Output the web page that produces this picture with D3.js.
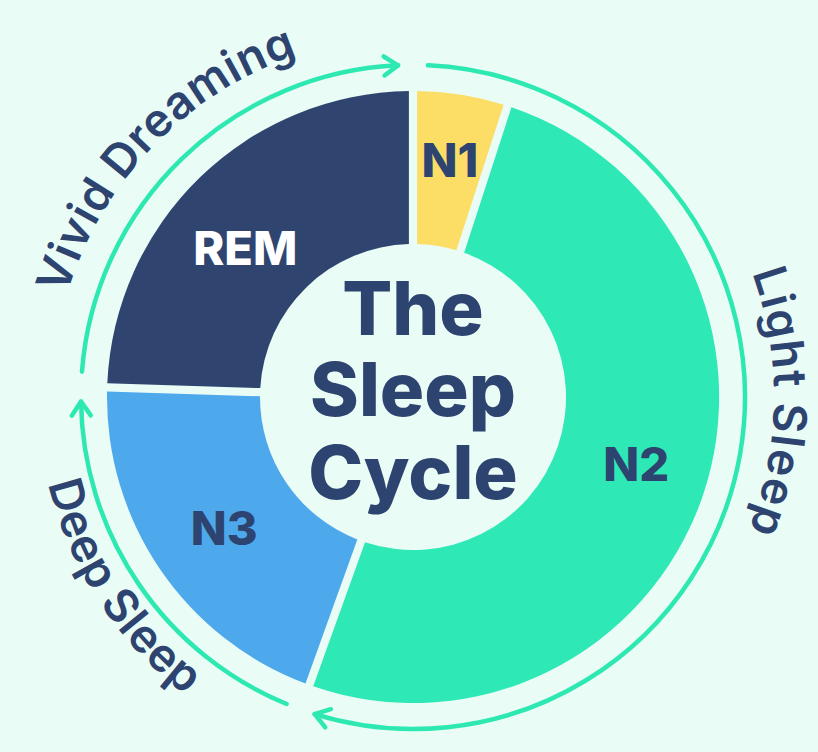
<!DOCTYPE html>
<html lang="en">
<head>
  <meta charset="utf-8">
  <title>The Sleep Cycle</title>
  <script src="https://cdn.jsdelivr.net/npm/d3@7"></script>
  <style>
    html, body { margin: 0; padding: 0; background: #eafcf6; }
    svg { display: block; }
  </style>
</head>
<body>
<svg id="chart" width="818" height="752"></svg>
<script>
// stages of one sleep cycle, share of the cycle (%)
var stages = ["N1", "N2", "N3", "REM"];
var shares = [5, 50.5, 20, 24.5];

// outer ring groups
var phases = ["Light Sleep", "Deep Sleep", "Vivid Dreaming"];
var phaseStages = [["N1", "N2"], ["N3"], ["REM"]];

var title = ["The", "Sleep", "Cycle"];

var width = 818, height = 752,
    cx = 413, cy = 397,
    outerR = 306, innerR = 153,
    ringR = 332,
    navy = "#2e4470", mint = "#2ee8b2";

var color = d3.scaleOrdinal()
    .domain(stages)
    .range(["#fcdd66", "#2ee9b5", "#4ea9ec", "#2f4570"]);

var svg = d3.select("#chart");
svg.append("rect").attr("width", width).attr("height", height).attr("fill", "#eafcf6");

var g = svg.append("g").attr("transform", "translate(" + cx + "," + cy + ")");

var pie = d3.pie().sort(null).value(function(d) { return d.share; });
var arcs = pie(stages.map(function(s, i) { return { stage: s, share: shares[i] }; }));

var arc = d3.arc()
    .innerRadius(innerR)
    .outerRadius(outerR)
    .padAngle(0.024);

// donut slices
g.selectAll("path.slice")
  .data(arcs)
  .enter().append("path")
    .attr("class", "slice")
    .attr("d", arc)
    .attr("fill", function(d) { return color(d.data.stage); });

// slice labels (small nudges off the centroid)
var nudge = { N1: [1, -10], N2: [6, -7], N3: [1, 2], REM: [-8, 16] };
g.selectAll("text.stage")
  .data(arcs)
  .enter().append("text")
    .attr("class", "stage")
    .attr("transform", function(d) {
      var c = arc.centroid(d), n = nudge[d.data.stage];
      return "translate(" + (c[0] + n[0]) + "," + (c[1] + n[1]) + ")";
    })
    .attr("dy", "0.36em")
    .attr("text-anchor", "middle")
    .style("font-family", "Inter, 'Noto Sans', sans-serif")
    .style("font-weight", 800)
    .style("font-size", "47px")
    .attr("fill", function(d) { return d.data.stage === "REM" ? "#ffffff" : navy; })
    .text(function(d) { return d.data.stage; });

// centre title
var tBase = [335, 416, 499];
g.selectAll("text.title")
  .data(title)
  .enter().append("text")
    .attr("class", "title")
    .attr("x", 0)
    .attr("y", function(d, i) { return tBase[i] - cy; })
    .attr("text-anchor", "middle")
    .style("font-family", "Inter, 'Noto Sans', sans-serif")
    .style("font-weight", 800)
    .style("font-size", "74px")
    .attr("fill", navy)
    .text(function(d) { return d; });

// outer ring with arrows + curved labels
var gap = 0.045;
var byStage = {};
arcs.forEach(function(a) { byStage[a.data.stage] = a; });

var phaseArcs = phases.map(function(p, i) {
  var list = phaseStages[i].map(function(s) { return byStage[s]; });
  return {
    name: p,
    a0: d3.min(list, function(d) { return d.startAngle; }),
    a1: d3.max(list, function(d) { return d.endAngle; })
  };
});

function circlePath(r, a0, a1, ccw) {
  var p = d3.path();
  p.arc(0, 0, r, a0 - Math.PI / 2, a1 - Math.PI / 2, ccw);
  return p.toString();
}

var ring = g.append("g")
    .attr("fill", "none")
    .attr("stroke", mint)
    .attr("stroke-width", 4.5)
    .attr("stroke-linecap", "round")
    .attr("stroke-linejoin", "round");

phaseArcs.forEach(function(p, i) {
  var s = p.a0 + gap, e = p.a1 - gap;
  ring.append("path").attr("d", circlePath(ringR, s, e, false));

  var tip = [ringR * Math.sin(e), -ringR * Math.cos(e)],
      tan = [Math.cos(e), Math.sin(e)],
      nor = [Math.sin(e), -Math.cos(e)],
      back = 14, side = 9.5;
  var w1 = [tip[0] - back * tan[0] + side * nor[0], tip[1] - back * tan[1] + side * nor[1]],
      w2 = [tip[0] - back * tan[0] - side * nor[0], tip[1] - back * tan[1] - side * nor[1]];
  ring.append("path").attr("d", "M" + w1 + "L" + tip + "L" + w2);

  // label along the ring
  var mid = (p.a0 + p.a1) / 2;
  if (p.name === "Light Sleep") mid = Math.PI / 2 + 0.015;
  if (p.name === "Vivid Dreaming") mid -= 0.035;
  if (p.name === "Deep Sleep") mid += 0.02;
  var ccw = p.name === "Deep Sleep";
  var r = ccw ? 375 : 361;
  var id = "lab" + i;
  g.append("path")
    .attr("id", id)
    .attr("fill", "none")
    .attr("d", ccw ? circlePath(r, mid + 1.3, mid - 1.3, true)
                   : circlePath(r, mid - 1.3, mid + 1.3, false));
  g.append("text")
    .style("font-family", "Inter, 'Noto Sans', sans-serif")
    .style("font-weight", 600)
    .style("font-size", "46px")
    .style("letter-spacing", p.name === "Light Sleep" ? "1.5px" : "0.5px")
    .attr("fill", navy)
    .append("textPath")
      .attr("href", "#" + id)
      .attr("startOffset", "50%")
      .attr("text-anchor", "middle")
      .text(p.name);
});
</script>
</body>
</html>
